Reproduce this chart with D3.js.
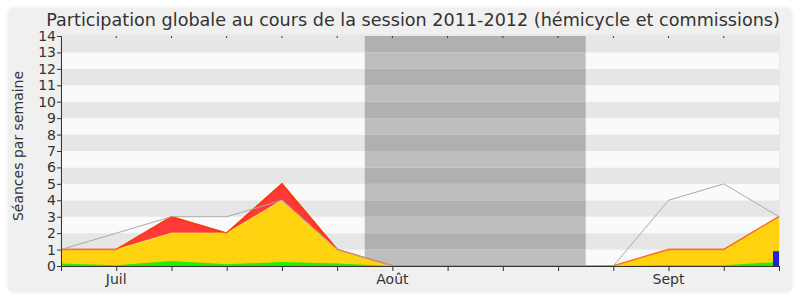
<!DOCTYPE html>
<html>
<head>
<meta charset="utf-8">
<script src="https://cdn.jsdelivr.net/npm/d3@7"></script>
<style>
  body { margin: 0; background: #fff; }
  svg { display: block; font-family: "DejaVu Sans", sans-serif; }
</style>
</head>
<body>
<div id="chart"></div>
<script>
'use strict';

// one value per week, week 0 .. week 13
const weeks = [0, 1, 2, 3, 4, 5, 6, 7, 8, 9, 10, 11, 12, 13];
const presence = [1, 2, 3, 3, 4, 1, 0, 0, 0, 0, 0, 4, 5, 3];
const totalSeances = [1, 1, 3, 2, 5, 1, 0, 0, 0, 0, 0, 1, 1, 3];
const hemicycle = [1, 1, 2, 2, 4, 1, 0, 0, 0, 0, 0, 1, 1, 3];
const interventions = [0.15, 0.05, 0.3, 0.1, 0.25, 0.15, 0, 0, 0, 0, 0, 0.05, 0.05, 0.25];
const questions = [0, 0, 0, 0, 0, 0, 0, 0, 0, 0, 0, 0, 0, 0.9];
const vacances = [[5.5, 9.5]];
const months = [{ label: 'Juil', week: 1 }, { label: 'Août', week: 6 }, { label: 'Sept', week: 11 }];
const yTicks = d3.range(0, 15);

const width = 800;
const height = 300;
const margin = { top: 36, right: 21, bottom: 34, left: 61 };

const svg = d3.select('#chart').append('svg')
    .attr('width', width)
    .attr('height', height);

svg.append('rect')
    .attr('x', 6.5).attr('y', 6.5)
    .attr('width', width - 13).attr('height', height - 13)
    .attr('rx', 8)
    .attr('fill', '#f0f0f0')
    .attr('stroke', '#fbfbfb')
    .attr('stroke-width', 2);

const x = d3.scaleLinear()
    .domain([0, 13])
    .range([margin.left, width - margin.right]);
const y = d3.scaleLinear()
    .domain([0, 14])
    .range([height - margin.bottom, margin.top]);

// striped background
svg.append('rect')
    .attr('x', x(0)).attr('y', y(14) - 1)
    .attr('width', x(13) - x(0)).attr('height', y(0) - y(14) + 1)
    .attr('fill', '#fafafa')
    .attr('stroke', '#dddddd');

svg.selectAll('rect.band')
    .data(yTicks.slice(0, 14))
    .enter().append('rect')
    .attr('class', 'band')
    .attr('x', x(0))
    .attr('y', (d) => y(d + 1))
    .attr('width', x(13) - x(0))
    .attr('height', (d) => y(d) - y(d + 1))
    .attr('fill', (d) => d % 2 === 1 ? '#e6e6e6' : '#fafafa');

// holidays
vacances.forEach((v) => {
    svg.selectAll(null)
        .data(yTicks.slice(0, 14))
        .enter().append('rect')
        .attr('x', x(v[0]))
        .attr('y', (d) => y(d + 1))
        .attr('width', x(v[1]) - x(v[0]))
        .attr('height', (d) => y(d) - y(d + 1))
        .attr('fill', (d) => d % 2 === 1 ? '#b0b0b0' : '#bebebe');
});

function area(values) {
    return d3.area()
        .x((d, i) => x(weeks[i]))
        .y0(y(0))
        .y1((d) => y(d))(values);
}

function line(values) {
    return d3.line()
        .x((d, i) => x(weeks[i]))
        .y((d) => y(d))(values);
}

svg.append('path')
    .attr('d', area(totalSeances))
    .attr('fill', '#ff3a3a');
svg.append('path')
    .attr('d', line(totalSeances))
    .attr('fill', 'none')
    .attr('stroke', '#ff0000')
    .attr('stroke-width', 1.5);

svg.append('path')
    .attr('d', area(hemicycle))
    .attr('fill', '#ffd30f');
svg.append('path')
    .attr('d', line(hemicycle))
    .attr('fill', 'none')
    .attr('stroke', '#ffe840')
    .attr('stroke-width', 1);

// red outline where it lies on the yellow
svg.append('path')
    .attr('d', line(totalSeances))
    .attr('fill', 'none')
    .attr('stroke', '#ff5a00')
    .attr('stroke-width', 1.2)
    .attr('stroke-opacity', 0.8);

svg.append('path')
    .attr('d', area(interventions))
    .attr('fill', '#22ee00');

svg.append('path')
    .attr('d', line(presence))
    .attr('fill', 'none')
    .attr('stroke', '#aaaaaa')
    .attr('stroke-width', 1);

svg.selectAll('rect.question')
    .data(questions)
    .enter().append('rect')
    .attr('class', 'question')
    .attr('x', (d, i) => x(weeks[i]) - 6)
    .attr('y', (d) => y(d))
    .attr('width', (d) => d > 0 ? 6 : 0)
    .attr('height', (d) => y(0) - y(d))
    .attr('fill', '#2222dd');

// axes
const yAxis = svg.append('g')
    .attr('transform', `translate(${x(0)},0)`)
    .call(d3.axisLeft(y).tickValues(yTicks).tickSize(4).tickPadding(1).tickFormat(d3.format('d')));
yAxis.selectAll('text').attr('font-size', 14).attr('fill', '#333').attr('font-family', 'DejaVu Sans');
yAxis.selectAll('line, path').attr('stroke', '#333');

const xAxis = svg.append('g')
    .attr('transform', `translate(0,${y(0)})`)
    .call(d3.axisBottom(x).tickValues(weeks).tickSize(5).tickFormat(''));
xAxis.selectAll('line, path').attr('stroke', '#333');

svg.append('g').selectAll('line')
    .data(weeks.slice(1, 13))
    .enter().append('line')
    .attr('x1', (d) => x(d)).attr('x2', (d) => x(d))
    .attr('y1', y(14)).attr('y2', y(14) + 2)
    .attr('stroke', '#333');

svg.append('g').selectAll('text')
    .data(months)
    .enter().append('text')
    .attr('x', (d) => x(d.week))
    .attr('y', 284)
    .attr('text-anchor', 'middle')
    .attr('font-size', 14)
    .attr('fill', '#333')
    .text((d) => d.label);

svg.append('text')
    .attr('x', 413)
    .attr('y', 26)
    .attr('text-anchor', 'middle')
    .attr('font-size', 17.6)
    .attr('fill', '#333')
    .text('Participation globale au cours de la session 2011-2012 (hémicycle et commissions)');

svg.append('text')
    .attr('transform', 'translate(23,146) rotate(-90)')
    .attr('text-anchor', 'middle')
    .attr('font-size', 14)
    .attr('fill', '#333')
    .text('Séances par semaine');
</script>
</body>
</html>
